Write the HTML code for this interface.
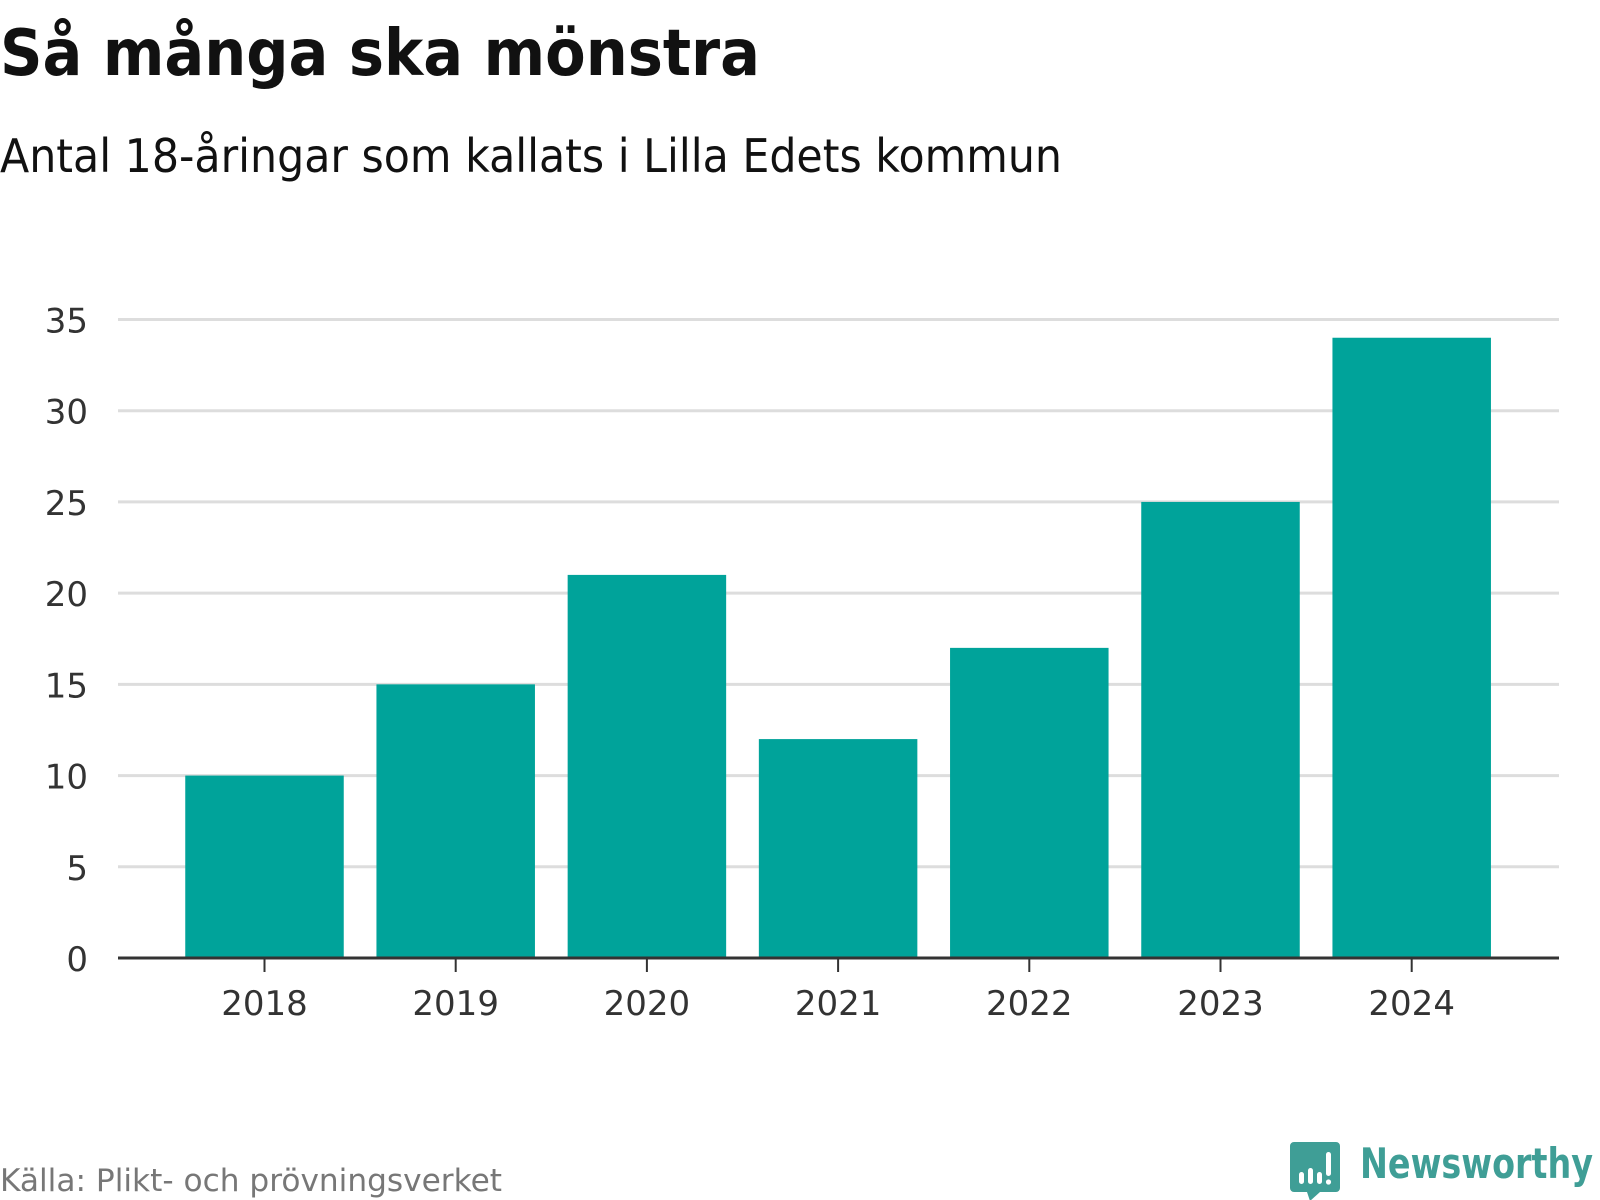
<!DOCTYPE html>
<html><head><meta charset="utf-8"><style>
html,body{margin:0;padding:0;background:#fff;}
svg{display:block;font-family:"DejaVu Sans","Liberation Sans",sans-serif;}
</style></head><body>
<svg id="chart" width="1600" height="1200" viewBox="0 0 1600 1200">
<text x="0" y="75" font-size="64" font-weight="bold" fill="#111" textLength="760" lengthAdjust="spacingAndGlyphs">Så många ska mönstra</text>
<text x="0" y="172" font-size="46" fill="#111" textLength="1062" lengthAdjust="spacingAndGlyphs">Antal 18-åringar som kallats i Lilla Edets kommun</text>
<g id="grid"></g>
<g id="bars"></g>
<g id="axis"></g>
<text x="0" y="1191" font-size="31" fill="#777" textLength="502" lengthAdjust="spacingAndGlyphs">Källa: Plikt- och prövningsverket</text>
<g>
<path d="M1294 1142 h42 a4 4 0 0 1 4 4 v42 a4 4 0 0 1 -4 4 h-16 l-10 9 l-3 -9 h-13 a4 4 0 0 1 -4 -4 v-42 a4 4 0 0 1 4 -4z" fill="#3f9e96"/>
<rect x="1299" y="1172" width="5" height="12" rx="2.5" fill="#fff"/>
<rect x="1308" y="1168" width="5" height="16" rx="2.5" fill="#fff"/>
<rect x="1317" y="1172" width="5" height="12" rx="2.5" fill="#fff"/>
<rect x="1326" y="1152" width="5" height="24" rx="2.5" fill="#fff"/>
<circle cx="1328.5" cy="1182" r="2.6" fill="#fff"/>
<text x="1360" y="1178" font-size="42" font-weight="bold" fill="#3f9e96" textLength="233" lengthAdjust="spacingAndGlyphs">Newsworthy</text>
</g>
</svg>
<script>
const categories = ["2018","2019","2020","2021","2022","2023","2024"];
const values = [10,15,21,12,17,25,34];
const yTicks = [0,5,10,15,20,25,30,35];
const NS="http://www.w3.org/2000/svg";
const left=118,right=1559,base=958,top35=319.5,yMax=35;
const y=v=>base-(base-top35)*v/yMax;
const cx=i=>264.5+i*191.2;
const bw=158.5;
function mk(tag,attrs,parent){const e=document.createElementNS(NS,tag);for(const k in attrs)e.setAttribute(k,attrs[k]);parent.appendChild(e);return e;}
const grid=document.getElementById('grid'),bars=document.getElementById('bars'),axis=document.getElementById('axis');
yTicks.forEach(t=>{
  if(t>0){const l=mk('line',{x1:left,x2:right,y1:y(t),y2:y(t),stroke:'#dddddd','stroke-width':3},grid);
  
  }
  const tx=mk('text',{x:88,y:y(t)+13,'font-size':34,fill:'#333','text-anchor':'end'},grid);
  tx.textContent=t;
  
  
});
values.forEach((v,i)=>{
  const r=mk('rect',{x:cx(i)-bw/2,y:y(v),width:bw,height:base-y(v),fill:'#00a39a'},bars);
  
  
  const tk=mk('line',{x1:cx(i),x2:cx(i),y1:base,y2:base+14,stroke:'#333','stroke-width':2},axis);
  
  
  const lb=mk('text',{x:cx(i),y:1015,'font-size':34,fill:'#333','text-anchor':'middle'},axis);
  lb.textContent=categories[i];
  
  
});
const ax=mk('line',{x1:left,x2:right,y1:base,y2:base,stroke:'#333','stroke-width':3},axis);


</script>
</body></html>
